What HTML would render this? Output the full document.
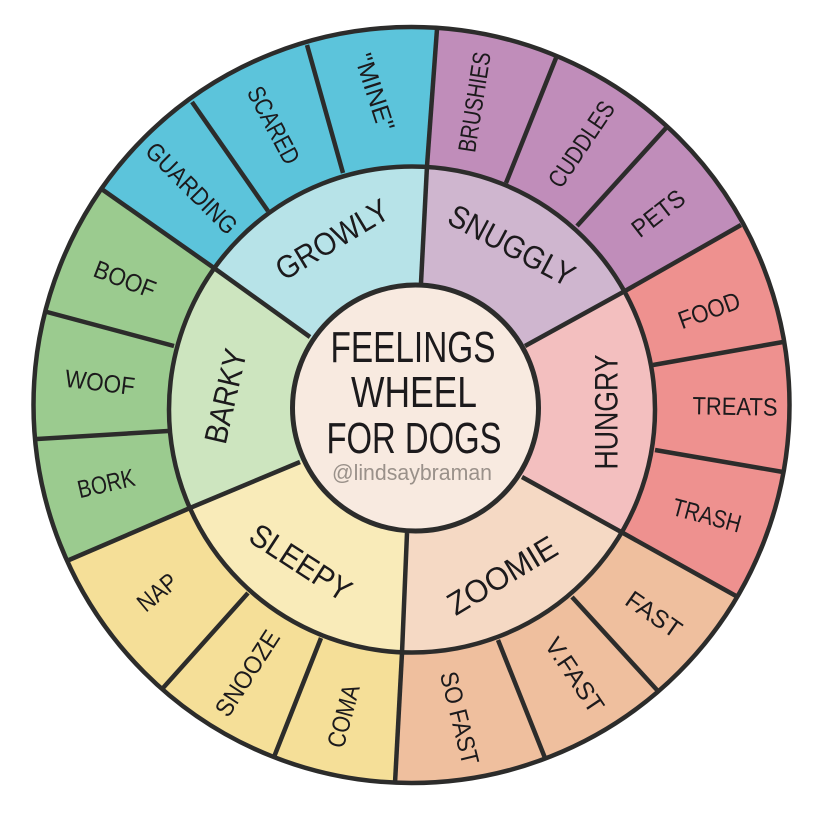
<!DOCTYPE html>
<html>
<head>
<meta charset="utf-8">
<style>
html,body{margin:0;padding:0;background:#fff;width:828px;height:814px;overflow:hidden}
svg{display:block}
text{font-family:"Liberation Sans",sans-serif;fill:#1c1a1c;text-anchor:middle}
.o{font-size:25px}
.m{font-size:32px}
.c{font-size:44px}
</style>
</head>
<body>
<svg width="828" height="814" viewBox="0 0 828 814" xmlns="http://www.w3.org/2000/svg">
<defs>
<clipPath id="co"><circle cx="411.5" cy="405" r="378"/></clipPath>
<clipPath id="cm"><circle cx="412" cy="409.5" r="243"/></clipPath>
</defs>
<g clip-path="url(#co)">
<polygon fill="#5CC4DB" points="214,268 0,118 0,-20 440,-20 427,166"/>
<polygon fill="#C08DBA" points="427,166 440,-20 828,-20 828,178 625,291"/>
<polygon fill="#EE918F" points="625,291 828,178 828,647 623,533"/>
<polygon fill="#EFBF9E" points="623,533 828,647 828,814 393,814 402,653"/>
<polygon fill="#F5DF98" points="402,653 393,814 0,814 0,590 190,508"/>
<polygon fill="#9BCB8F" points="190,508 0,590 0,118 214,268"/>
</g>
<g clip-path="url(#cm)">
<polygon fill="#B7E3E8" points="415,408 310,337 150,222 150,100 430,100 427,166"/>
<polygon fill="#CFB6CF" points="415,408 427,166 430,100 700,100 700,250 525,346"/>
<polygon fill="#F3BFBF" points="415,408 525,346 700,250 700,576 522,477"/>
<polygon fill="#F5D9C4" points="415,408 522,477 700,576 700,700 400,700 407,533"/>
<polygon fill="#F9EBB9" points="415,408 407,533 400,700 100,700 100,546 300,462"/>
<polygon fill="#CDE5BF" points="415,408 300,462 100,546 100,222 150,222 310,337"/>
</g>
<g stroke="#2c2c2b" stroke-width="4.5" fill="none" stroke-linecap="butt">
<line x1="437" y1="29" x2="427" y2="166"/>
<line x1="556" y1="58" x2="506" y2="183"/>
<line x1="666" y1="128" x2="577" y2="226"/>
<line x1="741" y1="225" x2="625" y2="291"/>
<line x1="783" y1="342" x2="653" y2="365"/>
<line x1="783" y1="472" x2="655" y2="450"/>
<line x1="736" y1="596" x2="623" y2="533"/>
<line x1="657" y1="690" x2="572" y2="597"/>
<line x1="545" y1="758" x2="498" y2="640"/>
<line x1="395" y1="783" x2="402" y2="653"/>
<line x1="274" y1="757" x2="321" y2="638"/>
<line x1="163" y1="688" x2="248" y2="593"/>
<line x1="69" y1="560" x2="190" y2="508"/>
<line x1="37" y1="439" x2="168" y2="431"/>
<line x1="47" y1="312" x2="174" y2="346"/>
<line x1="103" y1="190" x2="214" y2="268"/>
<line x1="192" y1="102" x2="268" y2="211"/>
<line x1="307" y1="45" x2="343" y2="173"/>
<line x1="427" y1="166" x2="421" y2="283"/>
<line x1="625" y1="291" x2="525" y2="346"/>
<line x1="623" y1="533" x2="522" y2="477"/>
<line x1="402" y1="653" x2="407" y2="533"/>
<line x1="190" y1="508" x2="300" y2="462"/>
<line x1="214" y1="268" x2="310" y2="337"/>
<circle cx="411.5" cy="405" r="378"/>
<circle cx="412" cy="409.5" r="243"/>
</g>
<circle cx="415.5" cy="408" r="123" fill="#F8EAE0" stroke="#2c2c2b" stroke-width="5"/>

<text class="c" x="413" y="362" textLength="165" lengthAdjust="spacingAndGlyphs">FEELINGS</text>
<text class="c" x="414" y="407" textLength="126" lengthAdjust="spacingAndGlyphs">WHEEL</text>
<text class="c" x="414" y="453" textLength="175" lengthAdjust="spacingAndGlyphs">FOR DOGS</text>
<text x="412" y="480" font-size="22" style="fill:#9a918a" textLength="160" lengthAdjust="spacingAndGlyphs">@lindsaybraman</text>

<g>
<text class="o" transform="translate(474,102) rotate(-81)" dy=".36em" textLength="101" lengthAdjust="spacingAndGlyphs">BRUSHIES</text>
<text class="o" transform="translate(581,144) rotate(-56)" dy=".36em" textLength="98" lengthAdjust="spacingAndGlyphs">CUDDLES</text>
<text class="o" transform="translate(658,213) rotate(-38)" dy=".36em" textLength="60" lengthAdjust="spacingAndGlyphs">PETS</text>
<text class="o" transform="translate(709,310) rotate(-20)" dy=".36em" textLength="64" lengthAdjust="spacingAndGlyphs">FOOD</text>
<text class="o" transform="translate(735,406) rotate(1)" dy=".36em" textLength="85" lengthAdjust="spacingAndGlyphs">TREATS</text>
<text class="o" transform="translate(707,515) rotate(15)" dy=".36em" textLength="70" lengthAdjust="spacingAndGlyphs">TRASH</text>
<text class="o" transform="translate(654,614) rotate(35)" dy=".36em" textLength="62" lengthAdjust="spacingAndGlyphs">FAST</text>
<text class="o" transform="translate(575,675) rotate(56)" dy=".36em" textLength="85" lengthAdjust="spacingAndGlyphs">V.FAST</text>
<text class="o" transform="translate(460,718) rotate(76)" dy=".36em" textLength="95" lengthAdjust="spacingAndGlyphs">SO FAST</text>
<text class="o" transform="translate(343,716) rotate(-75)" dy=".36em" textLength="64" lengthAdjust="spacingAndGlyphs">COMA</text>
<text class="o" transform="translate(247,673) rotate(-57)" dy=".36em" textLength="97" lengthAdjust="spacingAndGlyphs">SNOOZE</text>
<text class="o" transform="translate(157,592) rotate(-40)" dy=".36em" textLength="44" lengthAdjust="spacingAndGlyphs">NAP</text>
<text class="o" transform="translate(106,483) rotate(-13)" dy=".36em" textLength="58" lengthAdjust="spacingAndGlyphs">BORK</text>
<text class="o" transform="translate(100,382) rotate(7)" dy=".36em" textLength="70" lengthAdjust="spacingAndGlyphs">WOOF</text>
<text class="o" transform="translate(125,279) rotate(21)" dy=".36em" textLength="64" lengthAdjust="spacingAndGlyphs">BOOF</text>
<text class="o" transform="translate(192,188) rotate(45)" dy=".36em" textLength="118" lengthAdjust="spacingAndGlyphs">GUARDING</text>
<text class="o" transform="translate(274,125) rotate(62)" dy=".36em" textLength="84" lengthAdjust="spacingAndGlyphs">SCARED</text>
<text class="o" transform="translate(375,92) rotate(72)" dy=".36em" textLength="80" lengthAdjust="spacingAndGlyphs">"MINE"</text>
</g>
<g>
<text class="m" transform="translate(332,239) rotate(-31)" dy=".36em" textLength="126" lengthAdjust="spacingAndGlyphs">GROWLY</text>
<text class="m" transform="translate(512,245) rotate(28)" dy=".36em" textLength="138" lengthAdjust="spacingAndGlyphs">SNUGGLY</text>
<text class="m" transform="translate(606,412) rotate(-90)" dy=".36em" textLength="115" lengthAdjust="spacingAndGlyphs">HUNGRY</text>
<text class="m" transform="translate(502,575) rotate(-31)" dy=".36em" textLength="122" lengthAdjust="spacingAndGlyphs">ZOOMIE</text>
<text class="m" transform="translate(301,562) rotate(33)" dy=".36em" textLength="114" lengthAdjust="spacingAndGlyphs">SLEEPY</text>
<text class="m" transform="translate(225,396) rotate(-77)" dy=".36em" textLength="96" lengthAdjust="spacingAndGlyphs">BARKY</text>
</g>
</svg>
</body>
</html>
